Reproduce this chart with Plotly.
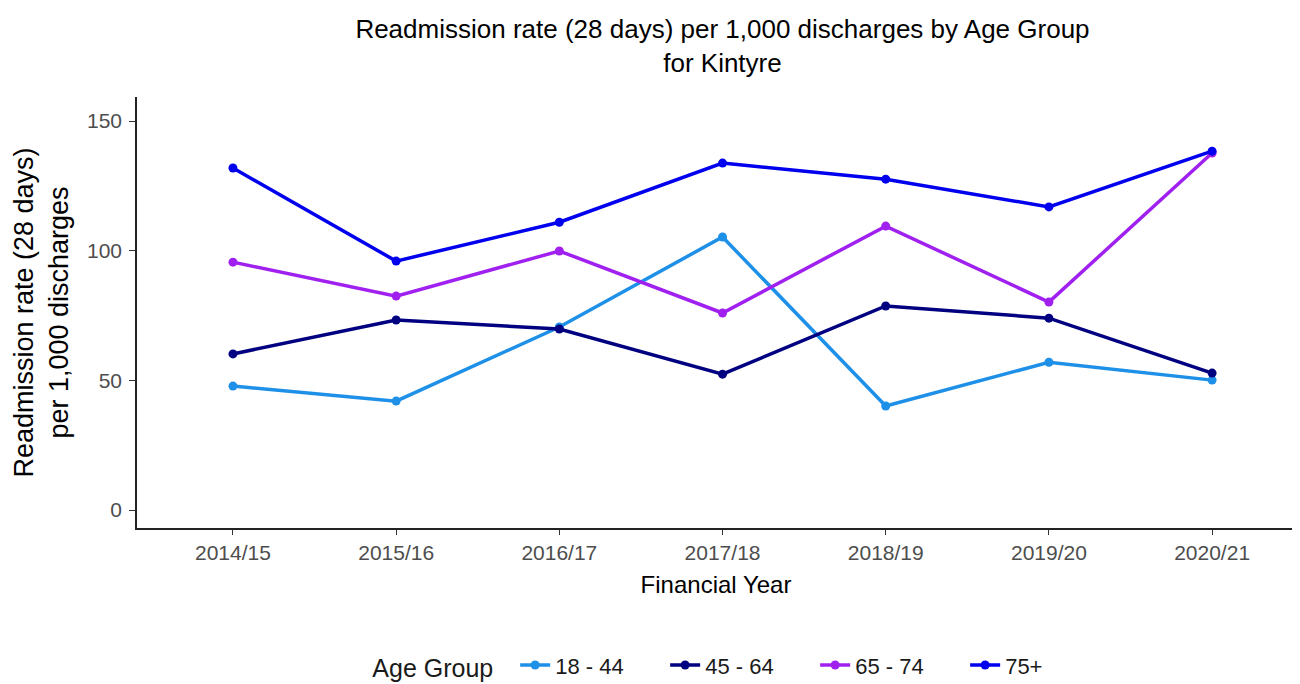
"""
Readmission rate by age group for Kintyre.
"""

import plotly.graph_objects as go

years = ['2014/15', '2015/16', '2016/17', '2017/18', '2018/19', '2019/20', '2020/21']

age_groups = ['18 - 44', '45 - 64', '65 - 74', '75+']

rate_18_44 = [47.8, 42.0, 70.6, 105.3, 40.1, 57.0, 50.1]
rate_45_64 = [60.2, 73.3, 69.8, 52.4, 78.7, 74.0, 52.8]
rate_65_74 = [95.6, 82.5, 99.9, 76.0, 109.5, 80.2, 137.7]
rate_75_plus = [131.9, 96.0, 111.0, 133.8, 127.6, 116.9, 138.4]

colours = ['#1E90E8', '#000080', '#A020F0', '#0000EE']

series = [rate_18_44, rate_45_64, rate_65_74, rate_75_plus]

fig = go.Figure()

for name, values, colour in zip(age_groups, series, colours):
    fig.add_trace(go.Scatter(
        x=years,
        y=values,
        name=name,
        mode='lines+markers',
        line=dict(color=colour, width=3.5),
        marker=dict(color=colour, size=9),
    ))

# the page body adds an 8px margin, so the figure is a little smaller than the window
fig.update_layout(
    width=1292,
    height=676,
    plot_bgcolor='white',
    paper_bgcolor='white',
    font=dict(family='Liberation Sans, Arial, sans-serif', color='black'),
    title=dict(
        text='Readmission rate (28 days) per 1,000 discharges by Age Group<br>for Kintyre',
        x=0.553,
        xanchor='center',
        yref='container',
        y=0.955,
        yanchor='top',
        font=dict(size=26, color='black'),
    ),
    margin=dict(l=129, r=5, t=89, b=156, autoexpand=False),
    showlegend=True,
    legend=dict(
        orientation='h',
        x=0.2015,
        xanchor='left',
        yref='container',
        y=0.027,
        yanchor='middle',
        title=dict(text='Age Group  ', font=dict(size=25)),
        font=dict(size=22, color='#1a1a1a'),
        entrywidth=105,
        entrywidthmode='pixels',
    ),
    xaxis=dict(
        type='category',
        range=[-0.588, 6.508],
        showgrid=False,
        showline=True,
        linecolor='#222222',
        linewidth=1.6,
        ticks='outside',
        ticklen=5,
        tickcolor='#333333',
        tickfont=dict(size=21, color='#4d4d4d'),
        title=dict(text='Financial Year', font=dict(size=24), standoff=13),
    ),
    yaxis=dict(
        range=[-6.94, 159.3],
        tickvals=[0, 50, 100, 150],
        showgrid=False,
        zeroline=False,
        showline=True,
        linecolor='#222222',
        linewidth=1.6,
        ticks='outside',
        ticklen=6,
        tickcolor='#333333',
        ticklabelstandoff=3,
        tickfont=dict(size=21, color='#4d4d4d'),
        title=dict(text='Readmission rate (28 days)<br>per 1,000 discharges', font=dict(size=27), standoff=10),
    ),
)

fig.write_html("out.html")
